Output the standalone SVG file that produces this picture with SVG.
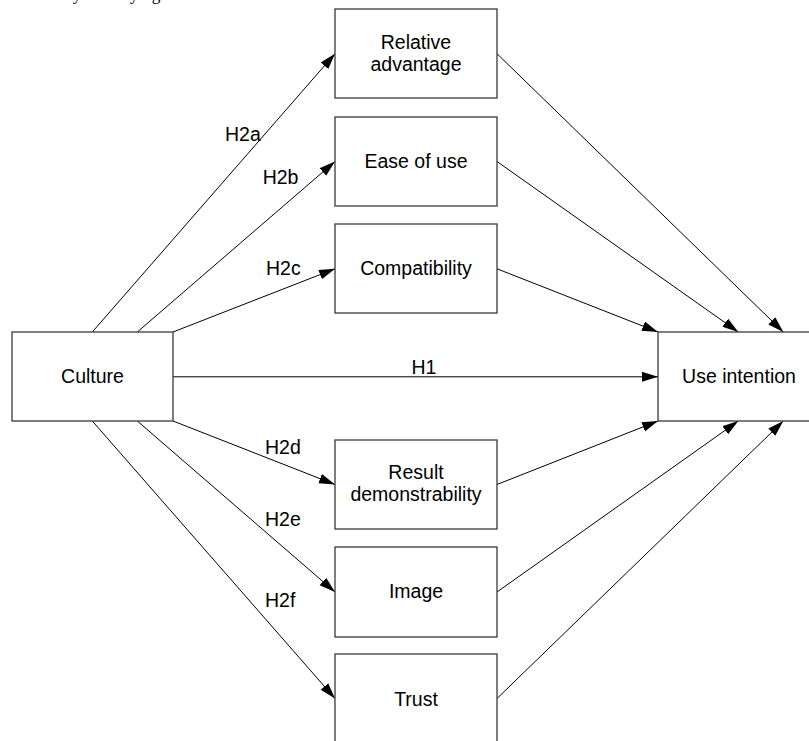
<svg xmlns="http://www.w3.org/2000/svg" width="809" height="741" viewBox="0 0 809 741">
<style>
.box{fill:#fff;stroke:#3a3a3a;stroke-width:1.3}
.t{font-family:"Liberation Sans",Arial,sans-serif;font-size:19.5px;fill:#000;text-anchor:middle}
.lb{font-family:"Liberation Sans",Arial,sans-serif;font-size:19.5px;fill:#000}
.c{stroke:#000;stroke-width:1;fill:none;marker-end:url(#ah)}
.cap{font-family:"Liberation Serif","Times New Roman",serif;font-size:17.25px;fill:#000}
</style>
<defs>
<marker id="ah" markerUnits="userSpaceOnUse" markerWidth="17" markerHeight="11" refX="16" refY="5" orient="auto">
<path d="M0,0 L16,5 L0,10 z" fill="#000"/>
</marker>
</defs>
<rect width="809" height="741" fill="#fff"/>
<text class="cap" x="8" y="0">and theory underlying the model</text>
<g id="connectors">
<line class="c" x1="92.3" y1="332" x2="335" y2="53.7"/>
<line class="c" x1="137.3" y1="332" x2="335" y2="161.5"/>
<line class="c" x1="173" y1="332" x2="335" y2="268.8"/>
<line class="c" x1="173" y1="376.8" x2="658" y2="376.8"/>
<line class="c" x1="173" y1="421" x2="335" y2="484.5"/>
<line class="c" x1="137.3" y1="421" x2="335" y2="592"/>
<line class="c" x1="92.3" y1="421" x2="335" y2="698.5"/>
<line class="c" x1="497" y1="53.7" x2="783.3" y2="332"/>
<line class="c" x1="497" y1="161.5" x2="738.3" y2="332"/>
<line class="c" x1="497" y1="268.8" x2="658" y2="332"/>
<line class="c" x1="497" y1="484.5" x2="658" y2="421"/>
<line class="c" x1="497" y1="592" x2="738.3" y2="421"/>
<line class="c" x1="497" y1="698.5" x2="783.3" y2="421"/>
<text class="lb" x="225" y="140.7">H2a</text>
<text class="lb" x="262.7" y="184.3">H2b</text>
<text class="lb" x="266" y="275">H2c</text>
<text class="lb" x="424" y="374" text-anchor="middle">H1</text>
<text class="lb" x="265" y="454">H2d</text>
<text class="lb" x="265" y="525.7">H2e</text>
<text class="lb" x="265" y="607">H2f</text>
</g>
<g id="culture">
<rect class="box" x="12" y="332" width="161" height="89"/>
<text class="t" x="92.5" y="382.7">Culture</text>
</g>
<g id="use-intention">
<rect class="box" x="658" y="332" width="162" height="89"/>
<text class="t" x="739" y="382.7">Use intention</text>
</g>
<g id="relative-advantage">
<rect class="box" x="335" y="9" width="162" height="89"/>
<text class="t" x="416" y="49.3">Relative</text>
<text class="t" x="416" y="71">advantage</text>
</g>
<g id="ease-of-use">
<rect class="box" x="335" y="117" width="162" height="89"/>
<text class="t" x="416" y="167.5">Ease of use</text>
</g>
<g id="compatibility">
<rect class="box" x="335" y="224" width="162" height="89"/>
<text class="t" x="416" y="275">Compatibility</text>
</g>
<g id="result-demonstrability">
<rect class="box" x="335" y="440" width="162" height="89"/>
<text class="t" x="416" y="479">Result</text>
<text class="t" x="416" y="500.5">demonstrability</text>
</g>
<g id="image">
<rect class="box" x="335" y="547" width="162" height="90"/>
<text class="t" x="416" y="597.7">Image</text>
</g>
<g id="trust">
<rect class="box" x="335" y="654" width="162" height="89"/>
<text class="t" x="416" y="706">Trust</text>
</g>
</svg>
